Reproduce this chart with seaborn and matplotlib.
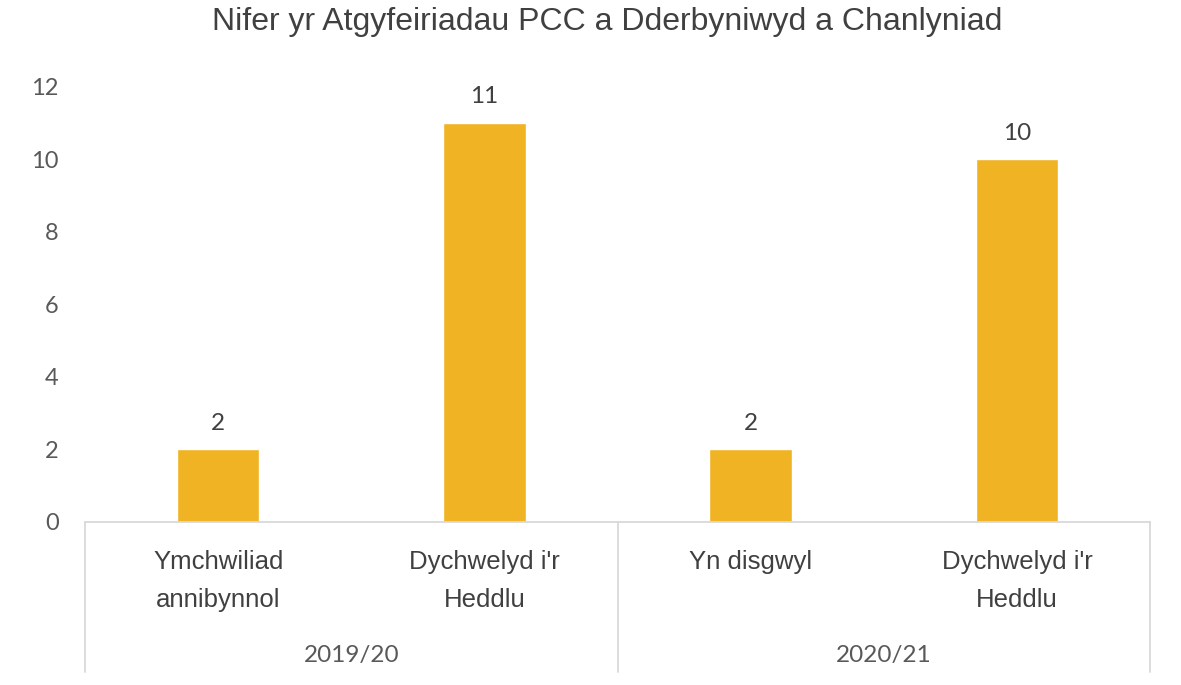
import pandas as pd
import matplotlib.pyplot as plt
import seaborn as sns

# data
years = ["2019/20", "2019/20", "2020/21", "2020/21"]
outcomes = ["Ymchwiliad\nannibynnol", "Dychwelyd i'r\nHeddlu", "Yn disgwyl", "Dychwelyd i'r\nHeddlu"]
counts = [2, 11, 2, 10]
year_labels = ["2019/20", "2020/21"]

df = pd.DataFrame({"year": years, "outcome": outcomes, "count": counts})
df["key"] = df["year"] + " | " + df["outcome"]

sns.set_theme(style="white")
plt.rcParams["font.family"] = ["Liberation Sans", "DejaVu Sans"]

fig = plt.figure(figsize=(11.81, 6.85), dpi=100)
ax = fig.add_axes([0.072, 0.238, 0.9018, 0.635])

bar_color = "#F0B323"
sns.barplot(data=df, x="key", y="count", color=bar_color, width=0.31,
            saturation=1, ax=ax)

ax.set_ylim(0, 12)
ax.set_xlim(-0.5, 3.5)
ax.set_yticks(range(0, 13, 2))
ax.set_xlabel("")
ax.set_ylabel("")
for s in ["top", "right", "left"]:
    ax.spines[s].set_visible(False)
ax.spines["bottom"].set_color("#d9d9d9")
ax.spines["bottom"].set_linewidth(1.3)

tick_font = ["Lato", "DejaVu Sans"]
ax.tick_params(axis="y", length=0, pad=19, labelsize=17, labelcolor="#595959")
for lab in ax.get_yticklabels():
    lab.set_family(tick_font)

# category labels
ax.set_xticks(range(len(outcomes)))
ax.set_xticklabels([])
ax.tick_params(axis="x", length=0)
for i, txt in enumerate(outcomes):
    ax.text(i, -0.78, txt, ha="center", va="top", fontsize=18.5,
            color="#404040", linespacing=1.7)

# value labels
for i, v in enumerate(counts):
    ax.text(i, v + 0.55, str(v), ha="center", va="baseline", fontsize=17.5,
            color="#404040", family=tick_font)

# group separators and year labels
trans = ax.get_xaxis_transform()
for xpos in [-0.5, 1.5, 3.5]:
    ax.plot([xpos, xpos], [0, -0.345], transform=trans, color="#d9d9d9",
            lw=1.3, clip_on=False)
for j, yl in enumerate(year_labels):
    ax.text(j * 2 + 0.5, -0.306, yl, transform=trans, ha="center",
            va="center", fontsize=17.5, color="#595959", family=tick_font)

fig.suptitle("Nifer yr Atgyfeiriadau PCC a Dderbyniwyd a Chanlyniad",
             x=0.514, y=0.99, va="top", fontsize=23, color="#404040")

fig.savefig("out.png", dpi=100, facecolor="white")
